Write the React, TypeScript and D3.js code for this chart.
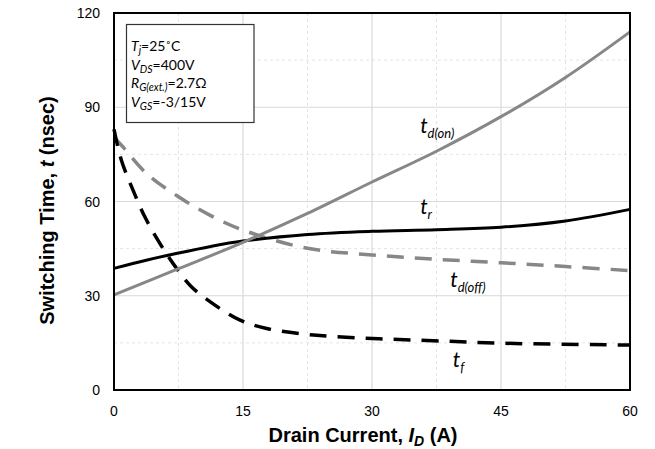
import React from "react";
import * as d3 from "d3";

const xTicks = [0, 15, 30, 45, 60];
const yTicks = [0, 30, 60, 90, 120];
const xMinor = [7.5, 22.5, 37.5, 52.5];
const yMinor = [15, 45, 75, 105];

const tdonI = [0, 7.5, 15, 22.5, 30, 37.5, 45, 52.5, 60];
const tdonT = [30.3, 38.6, 47, 56.2, 66.2, 76, 87, 99.5, 114];

const trI = [0, 3.75, 7.5, 11.25, 15, 22.5, 30, 37.5, 45, 52.5, 60];
const trT = [38.7, 41.3, 43.6, 45.7, 47.4, 49.5, 50.5, 51, 51.8, 53.8, 57.5];

const tdoffI = [0, 1, 3.75, 7.5, 11.25, 15, 22.5, 30, 37.5, 45, 52.5, 60];
const tdoffT = [80.5, 77.5, 69, 61.5, 55.5, 50.9, 45.1, 43, 41.6, 40.5, 39.3, 38];

const tfI = [0, 0.85, 2.2, 3.57, 5.1, 6.86, 9, 11.7, 14.6, 17.75, 23.2, 30, 37.1, 45, 60];
const tfT = [83, 73.2, 63.7, 55.2, 47.7, 40.3, 32.9, 27.1, 22.3, 19.6, 17.5, 16.4, 15.7, 14.9, 14.3];

const W = 655, H = 449;
const L = 114, R = 630, T = 13, B = 390;

export default function App() {
  const x = d3.scaleLinear().domain([0, 60]).range([L, R]);
  const y = d3.scaleLinear().domain([0, 120]).range([B, T]);
  const line = d3
    .line<[number, number]>()
    .x((d) => x(d[0]))
    .y((d) => y(d[1]))
    .curve(d3.curveCatmullRom.alpha(0.5));
  const mk = (a: number[], b: number[]) => a.map((v, i) => [v, b[i]] as [number, number]);
  const gray = "#878787";
  const labelFont = "Lato, 'Open Sans', sans-serif";
  const arial = "'Liberation Sans', Arial, sans-serif";

  const curveLabel = (xi: number, yt: number, sub: string) => (
    <text x={x(xi)} y={y(yt)} fontFamily={labelFont} fontStyle="italic" fontSize={21} fill="#000">
      t
      <tspan fontSize={13} dy={5}>{sub}</tspan>
    </text>
  );

  const legendLine = (yy: number, main: string, sub: string, rest: string) => (
    <text x={131} y={yy} fontFamily={labelFont} fontSize={14} fill="#000">
      <tspan fontStyle="italic">{main}</tspan>
      <tspan fontStyle="italic" fontSize={10.5} dy={3}>{sub}</tspan>
      <tspan dy={-3}>{rest}</tspan>
    </text>
  );

  return (
    <svg width={W} height={H} style={{ position: "absolute", left: 0, top: 0, background: "#fff" }}>
      <rect x={0} y={0} width={W} height={H} fill="#fff" />
      {xMinor.map((v) => (
        <line key={"xm" + v} x1={x(v)} x2={x(v)} y1={T} y2={B} stroke="#e4e4e4" strokeDasharray="3 3" strokeWidth={1} />
      ))}
      {yMinor.map((v) => (
        <line key={"ym" + v} x1={L} x2={R} y1={y(v)} y2={y(v)} stroke="#e4e4e4" strokeDasharray="3 3" strokeWidth={1} />
      ))}
      {xTicks.slice(1, -1).map((v) => (
        <line key={"xg" + v} x1={x(v)} x2={x(v)} y1={T} y2={B} stroke="#d9d9d9" strokeWidth={1.2} />
      ))}
      {yTicks.slice(1, -1).map((v) => (
        <line key={"yg" + v} x1={L} x2={R} y1={y(v)} y2={y(v)} stroke="#d9d9d9" strokeWidth={1.2} />
      ))}

      <rect x={126.5} y={24.5} width={127.5} height={98} fill="#fff" stroke="#333" strokeWidth={1.2} />
      {legendLine(51, "T", "j", "=25˚C")}
      {legendLine(69.5, "V", "DS", "=400V")}
      {legendLine(88, "R", "G(ext.)", "=2.7Ω")}
      {legendLine(106.5, "V", "GS", "=-3/15V")}

      <path d={line(mk(tdoffI, tdoffT)) || ""} fill="none" stroke={gray} strokeWidth={3.5} strokeDasharray="17 11" />
      <path d={line(mk(tfI, tfT)) || ""} fill="none" stroke="#000" strokeWidth={3.5} strokeDasharray="17 11" />
      <path d={line(mk(trI, trT)) || ""} fill="none" stroke="#000" strokeWidth={3} />
      <path d={line(mk(tdonI, tdonT)) || ""} fill="none" stroke={gray} strokeWidth={3} />

      <rect x={L} y={T} width={R - L} height={B - T} fill="none" stroke="#000" strokeWidth={2} />

      {curveLabel(35.6, 81.8, "d(on)")}
      {curveLabel(35.6, 56, "r")}
      {curveLabel(39.1, 32.8, "d(off)")}
      {curveLabel(39.4, 7.3, "f")}

      {yTicks.map((v) => (
        <text key={"yt" + v} x={100} y={y(v) + 5} textAnchor="end" fontFamily={arial} fontSize={14} fill="#000">
          {v}
        </text>
      ))}
      {xTicks.map((v) => (
        <text key={"xt" + v} x={x(v)} y={416} textAnchor="middle" fontFamily={arial} fontSize={14} fill="#000">
          {v}
        </text>
      ))}

      <text x={363} y={442} textAnchor="middle" fontFamily={arial} fontWeight="bold" fontSize={20} fill="#000">
        Drain Current,{" "}
        <tspan fontStyle="italic">I</tspan>
        <tspan fontStyle="italic" fontSize={14} dy={4}>D</tspan>
        <tspan dy={-4}> (A)</tspan>
      </text>
      <text
        transform={`translate(54, ${210.5}) rotate(-90)`}
        textAnchor="middle"
        fontFamily={arial}
        fontWeight="bold"
        fontSize={20}
        fill="#000"
      >
        Switching Time, <tspan fontStyle="italic">t</tspan> (nsec)
      </text>
    </svg>
  );
}
